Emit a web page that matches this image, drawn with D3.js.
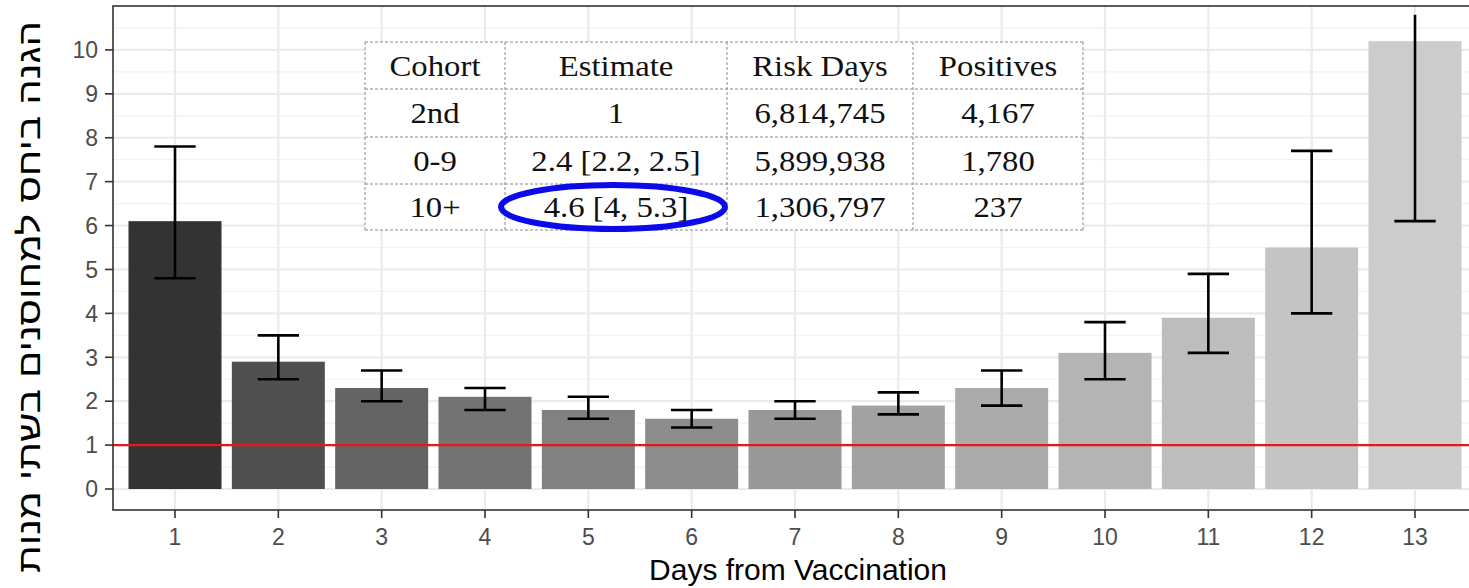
<!DOCTYPE html>
<html><head><meta charset="utf-8">
<script src="https://cdn.jsdelivr.net/npm/d3@7"></script>
<style>html,body{margin:0;padding:0;background:#fff;overflow:hidden}</style>
</head><body>
<svg id="c" width="1469" height="588"></svg>
<script>
const days = [1,2,3,4,5,6,7,8,9,10,11,12,13];
const estimates = [6.1,2.9,2.3,2.1,1.8,1.6,1.8,1.9,2.3,3.1,3.9,5.5,10.2];
const lower = [4.8,2.5,2.0,1.8,1.6,1.4,1.6,1.7,1.9,2.5,3.1,4.0,6.1];
const upper = [7.8,3.5,2.7,2.3,2.1,1.8,2.0,2.2,2.7,3.8,4.9,7.7,10.8];
const yTicks = [0,1,2,3,4,5,6,7,8,9,10];
const refLine = 1;
const tableHeader = ["Cohort","Estimate","Risk Days","Positives"];
const tableCohorts = ["2nd","0-9","10+"];
const tableEstimates = ["1","2.4 [2.2, 2.5]","4.6 [4, 5.3]"];
const tableRiskDays = ["6,814,745","5,899,938","1,306,797"];
const tablePositives = ["4,167","1,780","237"];
const xTitle = "Days from Vaccination";
const yTitle = "הגנה ביחס למחוסנים בשתי מנות";

const svg = d3.select("#c");
const L = 113, R = 1477, T = 6, B = 510;
const x = d3.scaleLinear().domain([0.4, days.length + 0.6]).range([L, R]);
const step = x(2) - x(1);
const y = d3.scaleLinear().domain([-0.478, 11.0]).range([B, T]);

const g0 = Math.pow(0.2,2.2), g1 = Math.pow(0.8,2.2);
const fill = i => { const v = Math.round(255*Math.pow(g0 + (g1-g0)*i/(days.length-1), 1/2.2)); return `rgb(${v},${v},${v})`; };

svg.append("clipPath").attr("id","pc").append("rect").attr("x",L).attr("y",T).attr("width",R-L).attr("height",B-T);
const panel = svg.append("g").attr("clip-path","url(#pc)");
panel.append("rect").attr("x",L).attr("y",T).attr("width",R-L).attr("height",B-T).attr("fill","#fff");
const minor = d3.range(-0.5, 11.01, 1);
panel.selectAll(".mn").data(minor).enter().append("line")
  .attr("x1",L).attr("x2",R).attr("y1",d=>y(d)).attr("y2",d=>y(d)).attr("stroke","#f2f2f2").attr("stroke-width",1.2);
panel.selectAll(".mj").data(yTicks).enter().append("line")
  .attr("x1",L).attr("x2",R).attr("y1",d=>y(d)).attr("y2",d=>y(d)).attr("stroke","#ebebeb").attr("stroke-width",2.2);
panel.selectAll(".mv").data(days).enter().append("line")
  .attr("x1",d=>x(d)).attr("x2",d=>x(d)).attr("y1",T).attr("y2",B).attr("stroke","#ebebeb").attr("stroke-width",2.2);

const bw = 0.9*step;
panel.selectAll(".bar").data(days).enter().append("rect")
  .attr("x",d=>x(d)-bw/2).attr("width",bw)
  .attr("y",(d,i)=>y(estimates[i])).attr("height",(d,i)=>y(0)-y(estimates[i]))
  .attr("fill",(d,i)=>fill(i));

const cw = 0.4*step;
const eb = panel.selectAll(".eb").data(days).enter().append("g");
eb.append("line").attr("x1",d=>x(d)).attr("x2",d=>x(d))
  .attr("y1",(d,i)=>y(lower[i])).attr("y2",(d,i)=>y(upper[i])).attr("stroke","#000").attr("stroke-width",2.6);
eb.append("line").attr("x1",d=>x(d)-cw/2).attr("x2",d=>x(d)+cw/2)
  .attr("y1",(d,i)=>y(lower[i])).attr("y2",(d,i)=>y(lower[i])).attr("stroke","#000").attr("stroke-width",2.6);
eb.filter((d,i)=>i<days.length-1).append("line").attr("x1",d=>x(d)-cw/2).attr("x2",d=>x(d)+cw/2)
  .attr("y1",(d,i)=>y(upper[i])).attr("y2",(d,i)=>y(upper[i])).attr("stroke","#000").attr("stroke-width",2.6);

panel.append("line").attr("x1",L).attr("x2",R).attr("y1",y(refLine)).attr("y2",y(refLine))
  .attr("stroke","#e8151b").attr("stroke-width",2.2);

svg.append("rect").attr("x",L).attr("y",T).attr("width",R-L).attr("height",B-T)
  .attr("fill","none").attr("stroke","#333").attr("stroke-width",1.6);

const sans = "Liberation Sans, Arial, sans-serif";
svg.selectAll(".yt").data(yTicks).enter().append("line")
  .attr("x1",L-8).attr("x2",L).attr("y1",d=>y(d)).attr("y2",d=>y(d)).attr("stroke","#333").attr("stroke-width",1.6);
svg.selectAll(".yl").data(yTicks).enter().append("text")
  .attr("x",L-15).attr("y",d=>y(d)).attr("dy","0.36em").attr("text-anchor","end")
  .attr("font-family",sans).attr("font-size",23).attr("fill","#4d4d4d").text(d=>d);
svg.selectAll(".xt").data(days).enter().append("line")
  .attr("x1",d=>x(d)).attr("x2",d=>x(d)).attr("y1",B).attr("y2",B+8).attr("stroke","#333").attr("stroke-width",1.6);
svg.selectAll(".xl").data(days).enter().append("text")
  .attr("x",d=>x(d)).attr("y",545).attr("text-anchor","middle")
  .attr("font-family",sans).attr("font-size",23).attr("fill","#4d4d4d").text(d=>d);

svg.append("text").attr("x",(L+R)/2+3).attr("y",580).attr("text-anchor","middle")
  .attr("font-family",sans).attr("font-size",30).attr("fill","#000").text(xTitle);
svg.append("text").attr("transform","translate(40,297) rotate(-90)").attr("text-anchor","middle")
  .attr("font-family",sans).attr("font-size",31).attr("fill","#000")
  .attr("direction","rtl").attr("textLength",552).attr("lengthAdjust","spacingAndGlyphs").text(yTitle);

const colX = [365,505,727,913,1083];
const rowY = [42,89,137,184,230];
const rows = [tableHeader].concat(tableCohorts.map((c,i)=>[c,tableEstimates[i],tableRiskDays[i],tablePositives[i]]));
const tg = svg.append("g");
tg.append("rect").attr("x",colX[0]).attr("y",rowY[0]).attr("width",colX[4]-colX[0]).attr("height",rowY[4]-rowY[0]).attr("fill","#fff");
colX.forEach(cx=>tg.append("line").attr("x1",cx).attr("x2",cx).attr("y1",rowY[0]).attr("y2",rowY[4])
  .attr("stroke","#8a8a8a").attr("stroke-width",1).attr("stroke-dasharray","3,2"));
rowY.forEach(ry=>tg.append("line").attr("x1",colX[0]).attr("x2",colX[4]).attr("y1",ry).attr("y2",ry)
  .attr("stroke","#8a8a8a").attr("stroke-width",1).attr("stroke-dasharray","3,2"));
rows.forEach((r,ri)=>r.forEach((t,ci)=>{
  const cx = (colX[ci]+colX[ci+1])/2, cy = (rowY[ri]+rowY[ri+1])/2;
  tg.append("text").attr("transform",`translate(${cx},${cy}) scale(1.13,1)`).attr("dy","0.35em")
    .attr("text-anchor","middle").attr("font-family","Liberation Serif, serif").attr("font-size",29)
    .attr("fill","#111").text(t);
}));
tg.append("ellipse").attr("cx",(colX[1]+colX[2])/2-3).attr("cy",(rowY[3]+rowY[4])/2).attr("rx",112).attr("ry",22)
  .attr("fill","none").attr("stroke","#0b0bea").attr("stroke-width",6);
</script>
</body></html>
